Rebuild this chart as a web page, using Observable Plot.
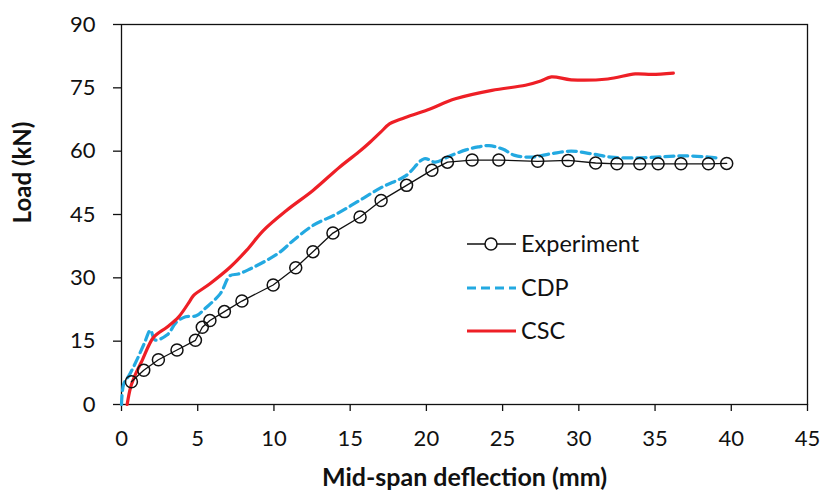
<!DOCTYPE html>
<html><head><meta charset="utf-8">
<script src="https://cdn.jsdelivr.net/npm/d3@7"></script>
<script src="https://cdn.jsdelivr.net/npm/@observablehq/plot@0.6"></script>
<style>
body{margin:0;background:#fff}
#wrap{position:relative;width:821px;height:492px;overflow:hidden;font-family:Lato,sans-serif}
#legend{position:absolute;left:0;top:0}
</style>
</head><body><div id="wrap"><div id="chart"></div><div id="legend"></div></div>
<script>
// Experiment
const expX = [0.65,1.46,2.42,3.64,4.85,5.3,5.8,6.75,7.9,9.95,11.43,12.56,13.87,15.65,17.03,18.7,20.36,21.38,23.0,24.75,27.3,29.3,31.1,32.5,34.0,35.2,36.7,38.5,39.7];
const expY = [5.4,8.1,10.6,12.9,15.2,18.3,19.9,22.0,24.5,28.3,32.4,36.2,40.6,44.4,48.3,51.9,55.5,57.4,57.9,57.9,57.6,57.8,57.2,57.0,57.0,57.0,57.0,57.0,57.1];
// CDP
const cdpX = [0,0.15,0.5,1.0,1.5,1.9,2.2,3.0,3.6,4.2,4.9,5.5,6.47,7.12,7.66,8.43,9.5,10.4,11.25,12.56,14.09,15.6,17.1,18.66,19.86,20.6,21.5,22.6,23.4,24.1,25.0,25.8,26.9,28.2,29.5,30.8,32.1,33.9,35.6,36.95,38.5,39.0];
const cdpY = [0,4.9,6.9,10.5,14.5,17.6,15.3,16.5,19.5,20.8,21.0,22.8,26.2,30.5,30.9,32.1,34.1,36.1,38.8,42.4,45.1,48.3,51.5,54.2,58.2,57.4,58.8,60.3,61.0,61.3,60.5,59.0,58.6,59.4,60.0,59.4,58.6,58.4,58.7,58.9,58.6,58.4];
// CSC
const cscX = [0.37,0.6,0.9,1.35,2.1,2.98,3.74,4.5,4.72,5.8,7.12,8.2,9.3,10.8,12.56,14.3,15.7,16.3,17.0,17.6,18.4,20.1,21.9,24.3,26.5,27.5,28.2,29.5,31.9,33.7,34.8,36.2];
const cscY = [0,4.1,7.0,10.4,15.9,18.3,20.7,24.6,25.8,28.6,32.5,36.5,41.2,45.9,50.7,56.2,60.2,62.1,64.5,66.5,67.7,69.8,72.4,74.4,75.6,76.6,77.6,76.9,77.1,78.3,78.2,78.5];

const xTicks = [0,5,10,15,20,25,30,35,40,45];
const yTicks = [0,15,30,45,60,75,90];
const seriesNames = ["Experiment","CDP","CSC"];
const colors = {Experiment:"#111111", CDP:"#23A9E1", CSC:"#EE1F26"};

const toRows = (xs, ys) => xs.map((x,i)=>({x, y: ys[i]}));
const exp = toRows(expX, expY), cdp = toRows(cdpX, cdpY), csc = toRows(cscX, cscY);

const plot = Plot.plot({
  width: 821, height: 492,
  marginLeft: 121, marginRight: 14, marginTop: 24, marginBottom: 88,
  style: {fontFamily: "Lato, sans-serif", fontSize: "22px", color: "#111", background: "#fff", overflow: "visible"},
  x: {domain: [0,45]},
  y: {domain: [0,90]},
  marks: [
    Plot.frame({stroke: "#111", strokeWidth: 1.3}),
    Plot.axisX({ticks: xTicks, tickSize: 7, tickPadding: 19, label: null, strokeWidth: 1.3}),
    Plot.axisY({ticks: yTicks, tickSize: 8, tickPadding: 18, label: null, strokeWidth: 1.3}),
    Plot.line(cdp, {x:"x", y:"y", stroke: colors.CDP, strokeWidth: 3.2, strokeDasharray: "9,5", curve: "catmull-rom"}),
    Plot.line(csc, {x:"x", y:"y", stroke: colors.CSC, strokeWidth: 3.2, curve: "catmull-rom"}),
    Plot.line(exp, {x:"x", y:"y", stroke: colors.Experiment, strokeWidth: 1.3}),
    Plot.dot(exp, {x:"x", y:"y", r: 6, stroke: colors.Experiment, strokeWidth: 1.5, fill: "none"}),
    Plot.text(["Mid-span deflection (mm)"], {frameAnchor: "bottom", lineAnchor: "middle", dy: 73, fontWeight: "bold", fontSize: 25, fill: "#111"}),
    Plot.text(["Load (kN)"], {frameAnchor: "left", textAnchor: "middle", lineAnchor: "middle", dx: -98, dy: -42, rotate: -90, fontWeight: "bold", fontSize: 24, fill: "#111"})
  ]
});
document.getElementById("chart").append(plot);

// legend overlay
const legendRows = [
  {name: "Experiment", y: 244},
  {name: "CDP", y: 288},
  {name: "CSC", y: 331}
];
const ns = "http://www.w3.org/2000/svg";
const lsvg = document.createElementNS(ns, "svg");
lsvg.setAttribute("width", 821); lsvg.setAttribute("height", 492);
lsvg.style.fontFamily = "Lato, sans-serif";
for (const r of legendRows) {
  const g = document.createElementNS(ns, "g");
  const line = document.createElementNS(ns, "line");
  line.setAttribute("x1", 467); line.setAttribute("x2", 516);
  line.setAttribute("y1", r.y); line.setAttribute("y2", r.y);
  line.setAttribute("stroke", colors[r.name]);
  if (r.name === "Experiment") line.setAttribute("stroke-width", 1.3);
  else line.setAttribute("stroke-width", 3.2);
  if (r.name === "CDP") line.setAttribute("stroke-dasharray", "9,5");
  g.append(line);
  if (r.name === "Experiment") {
    const c = document.createElementNS(ns, "circle");
    c.setAttribute("cx", 491); c.setAttribute("cy", r.y); c.setAttribute("r", 6);
    c.setAttribute("fill", "#fff"); c.setAttribute("stroke", "#111"); c.setAttribute("stroke-width", 1.5);
    g.append(c);
  }
  const t = document.createElementNS(ns, "text");
  t.setAttribute("x", 521); t.setAttribute("y", r.y); t.setAttribute("dy", "0.35em");
  t.setAttribute("font-size", 23.5); t.setAttribute("fill", "#111");
  t.textContent = r.name;
  g.append(t);
  lsvg.append(g);
}
document.getElementById("legend").append(lsvg);
</script>
</body></html>
